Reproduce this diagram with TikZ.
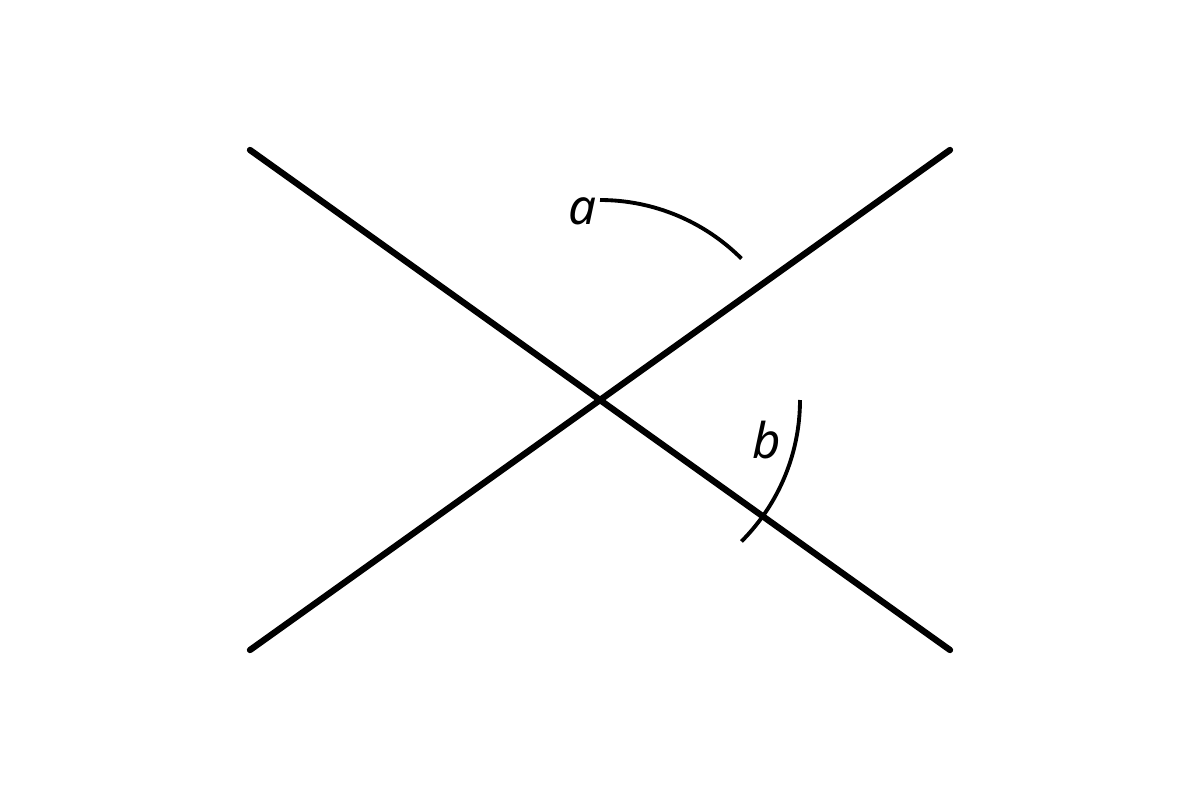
\documentclass[tikz,border=0pt]{standalone}
\usepackage{fontspec}
\newfontfamily\lblfont{Noto Sans}
\begin{document}
\begin{tikzpicture}[x=0.01cm,y=-0.01cm,
  mainline/.style={line width=1.8pt,line cap=round},
  anglearc/.style={line width=1.1pt},
  lbl/.style={inner sep=0pt,font=\lblfont\itshape\fontsize{14}{17}\selectfont}]
\useasboundingbox (0,0) rectangle (1200,800);
\coordinate (O) at (600,400);
\coordinate (tl) at (250,150);
\coordinate (br) at (950,650);
\coordinate (bl) at (250,650);
\coordinate (tr) at (950,150);
\draw[mainline] (tl) -- (br);
\draw[mainline] (bl) -- (tr);
\coordinate (astart) at (600,200);
\coordinate (bstart) at (800,400);
\draw[anglearc] (astart) arc[start angle=-90,end angle=-45,radius=200];
\draw[anglearc] (bstart) arc[start angle=0,end angle=45,radius=200];
\node[lbl] (la) at (582,211) {a};
\node[lbl] (lb) at (767,440) {b};
\end{tikzpicture}
\end{document}
